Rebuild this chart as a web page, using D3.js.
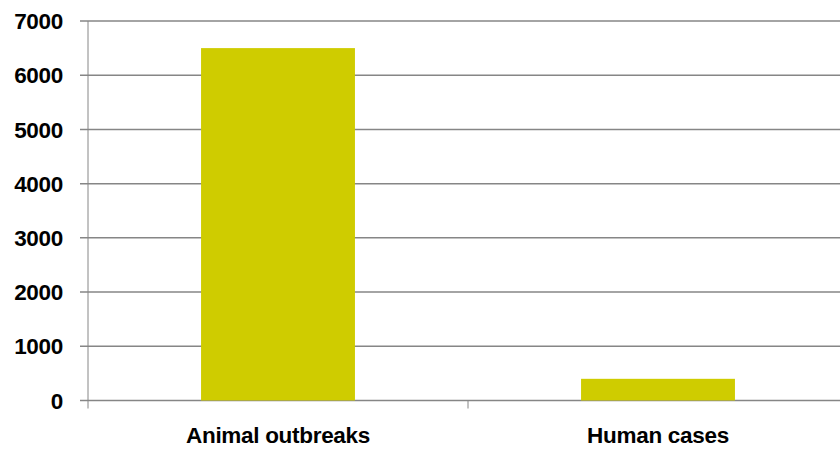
<!DOCTYPE html>
<html>
<head>
<meta charset="utf-8">
<script src="https://cdn.jsdelivr.net/npm/d3@7"></script>
<style>
  body { margin: 0; background: #fff; }
  svg text { font-family: "Liberation Sans", Arial, sans-serif; fill: #000; font-weight: bold; }
</style>
</head>
<body>
<svg id="chart"></svg>
<script>
const WIDTH = 840;
const HEIGHT = 452;

const categories = ["Animal outbreaks", "Human cases"];
const values = [6500, 400];
const yTicks = [0, 1000, 2000, 3000, 4000, 5000, 6000, 7000];

const margin = { top: 21, left: 88, bottom: 51.5 };

const svg = d3.select("#chart")
    .attr("width", WIDTH)
    .attr("height", HEIGHT);

const x = d3.scaleBand()
    .domain(categories)
    .range([margin.left, margin.left + 760])
    .padding(0);

const y = d3.scaleLinear()
    .domain([0, 7000])
    .range([HEIGHT - margin.bottom, margin.top]);

// gridlines
svg.append("g")
    .selectAll("line")
    .data(yTicks)
    .enter()
    .append("line")
    .attr("x1", margin.left - 8)
    .attr("x2", WIDTH)
    .attr("y1", d => y(d))
    .attr("y2", d => y(d))
    .attr("stroke", "#868686")
    .attr("stroke-width", 1.5);

// y axis line
svg.append("line")
    .attr("x1", margin.left)
    .attr("x2", margin.left)
    .attr("y1", y(7000))
    .attr("y2", y(0))
    .attr("stroke", "#868686")
    .attr("stroke-width", 1);

// y tick labels
svg.append("g")
    .selectAll("text")
    .data(yTicks)
    .enter()
    .append("text")
    .attr("x", 63)
    .attr("y", d => y(d))
    .attr("dy", "0.36em")
    .attr("text-anchor", "end")
    .attr("font-size", 22.5)
    .attr("letter-spacing", -0.3)
    .text(d => d);

// category ticks
const catTicks = [margin.left, margin.left + x.step(), margin.left + 2 * x.step()];
svg.append("g")
    .selectAll("line")
    .data(catTicks)
    .enter()
    .append("line")
    .attr("x1", d => d)
    .attr("x2", d => d)
    .attr("y1", y(0))
    .attr("y2", y(0) + 8)
    .attr("stroke", "#868686")
    .attr("stroke-width", 1);

// bars
const barW = x.bandwidth() * 0.405;
svg.append("g")
    .selectAll("rect")
    .data(categories)
    .enter()
    .append("rect")
    .attr("x", d => x(d) + (x.bandwidth() - barW) / 2)
    .attr("y", (d, i) => y(values[i]))
    .attr("width", barW)
    .attr("height", (d, i) => y(0) - y(values[i]))
    .attr("fill", "#cfcc00");

// category labels
svg.append("g")
    .selectAll("text")
    .data(categories)
    .enter()
    .append("text")
    .attr("x", d => x(d) + x.bandwidth() / 2)
    .attr("y", 443)
    .attr("text-anchor", "middle")
    .attr("font-size", 22.5)
    .attr("letter-spacing", -0.3)
    .text(d => d);
</script>
</body>
</html>
